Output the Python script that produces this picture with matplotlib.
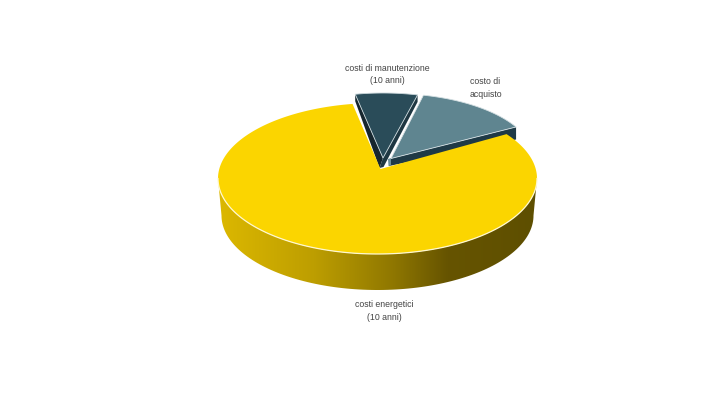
import numpy as np
import matplotlib
matplotlib.use("Agg")
import matplotlib.pyplot as plt
from matplotlib.patches import Polygon
from matplotlib.colors import LinearSegmentedColormap

categories = ["costi energetici\n(10 anni)", "costi di manutenzione\n(10 anni)", "costo di\nacquisto"]
values = [82.5, 7.0, 13.3]
colors = ["#fbd500", "#2a4c59", "#5f8590"]
start_angles = [99.0, 76.0, 29.0]   # degrees, on the projected circle

plt.rcParams['font.family'] = ['Liberation Sans', 'DejaVu Sans']
fig = plt.figure(figsize=(7.26, 4.08), dpi=100)
ax = fig.add_axes([0, 0, 1, 1])
ax.set_xlim(0, 726); ax.set_ylim(408, 0); ax.axis('off')

RX, RY = 159.5, 75.5
CX, CY = 377.5, 178.5
RX_S, RY_S = 143.0, 65.0   # wedges seen from their own apex

def arc(cx, cy, a0, a1, rx=RX, ry=RY, n=120):
    t = np.radians(np.linspace(a0, a1, n))
    return np.column_stack([cx + rx*np.cos(t), cy - ry*np.sin(t)])

def spans(i):
    return start_angles[i], start_angles[i] + values[i]*3.6

# ---- small wedges: extruded faces
dk_a0, dk_a1 = spans(1)
dk_apex = np.array([383.0, 158.0]); dk_low = np.array([379.5, 168.0])
dk = arc(dk_apex[0], dk_apex[1], dk_a0, dk_a1, rx=RX_S, ry=RY_S)
D = 7
ax.add_patch(Polygon([dk[-1], dk[-1]+[0, D], dk_low, dk_apex], fc="#16262e", ec="none", zorder=2))
ax.add_patch(Polygon([dk[0], dk[0]+[0, D], dk_low+[4, -1], dk_low, dk_apex], fc="#1e3742", ec="none", zorder=2))
ax.add_patch(Polygon(np.vstack([dk, [dk_apex]]), fc=colors[1], ec="#c9d6da", lw=0.6, zorder=3, joinstyle='round'))

tl_a0, tl_a1 = spans(2)
tl_apex = np.array([391.0, 158.5])
tl = arc(tl_apex[0], tl_apex[1], tl_a0, tl_a1, rx=RX_S, ry=RY_S)
ax.add_patch(Polygon([tl[0], tl[0]+[0, 12.5], [389, 166], [389, 159.5], tl_apex], fc="#1f3a46", ec="none", zorder=2))
ax.add_patch(Polygon([[388, 159], [391, 158], [391, 165.5], [388.5, 166]], fc="#6d8f9a", ec="none", zorder=2.5))
ax.add_patch(Polygon(np.vstack([tl, [tl_apex]]), fc=colors[2], ec="#d5e0e3", lw=0.6, zorder=3, joinstyle='round'))

# ---- main slice: side band with a horizontal gradient
top_front = arc(CX, CY, 180, 360)
bot_front = arc(CX, 215.5, 180, 360, rx=156, ry=74.5)
band = np.vstack([top_front, bot_front[::-1]])
cmap = LinearSegmentedColormap.from_list("side", [
    (0.00, "#dcb800"), (0.30, "#bd9e00"), (0.55, "#8f7700"),
    (0.72, "#665400"), (1.00, "#5e4f00")])
im = ax.imshow(np.linspace(0, 1, 256).reshape(1, -1), extent=(218, 537, 300, 170),
               cmap=cmap, aspect='auto', zorder=4)
clip = Polygon(band, transform=ax.transData, fc='none', ec='none')
ax.add_patch(clip)
im.set_clip_path(clip)
ax.set_xlim(0, 726); ax.set_ylim(408, 0)

en_a0, en_a1 = spans(0)
en = arc(CX, CY, en_a0, en_a1, n=400)
en_apex = (380.5, 169.0)
ax.add_patch(Polygon(np.vstack([en, [en_apex]]), fc=colors[0], ec="none", zorder=5))
ax.plot(top_front[:, 0], top_front[:, 1], color="#fff8d0", lw=0.9, zorder=6)

# ---- labels
txt = dict(ha='center', va='center', fontsize=6.3, color="#444444", linespacing=1.55, zorder=7)
ax.text(384, 311, categories[0], **txt)
ax.text(387, 74.5, categories[1], **txt)
ax.text(485.5, 88, categories[2], **txt)

fig.savefig("out.png", dpi=100)
